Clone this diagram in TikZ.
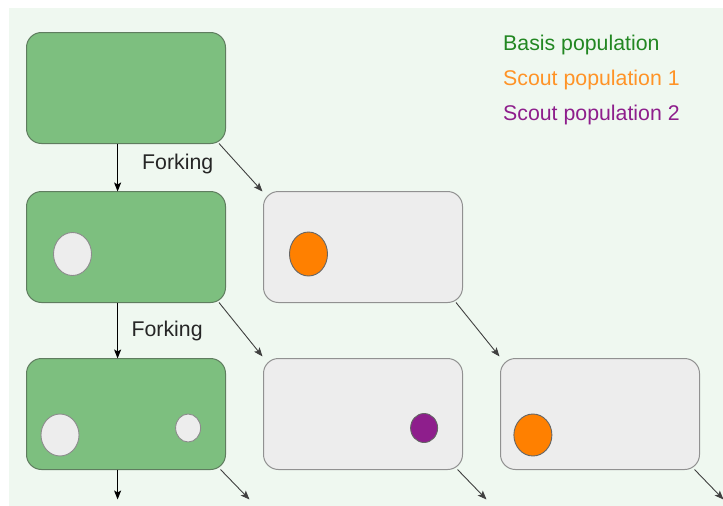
\documentclass[tikz,border=0pt]{standalone}
\usepackage{fontspec}
\setmainfont{Liberation Sans}
\usepackage{xcolor}
\usepackage{tikz}
\usetikzlibrary{shapes.geometric, arrows.meta, positioning}
\definecolor{paper}{RGB}{239, 248, 240}
\definecolor{basisfill}{RGB}{125, 191, 127}
\definecolor{basisedge}{RGB}{95, 125, 95}
\definecolor{scoutfill}{RGB}{237, 237, 237}
\definecolor{scoutedge}{RGB}{145, 145, 145}
\definecolor{basisgreen}{RGB}{34, 135, 34}
\definecolor{scoutorange}{RGB}{255, 128, 0}
\definecolor{scoutpurple}{RGB}{142, 30, 140}

\begin{document}
\begin{tikzpicture}[
        x=1pt, y=-1pt,
        pop/.style={rectangle, rounded corners=15pt, minimum width=199pt, minimum height=111pt, line width=1pt, inner sep=0pt, outer sep=0pt},
        basis/.style={pop, draw=basisedge, fill=basisfill},
        scout/.style={pop, draw=scoutedge, fill=scoutfill},
        member/.style={ellipse, draw=black!45, line width=0.9pt, inner sep=0pt, fill=scoutfill},
        tip/.style={-{Stealth[length=9pt, width=7pt, inset=2pt]}},
        down/.style={tip, line width=1.2pt, black},
        fork/.style={tip, line width=0.9pt, black!75},
        note/.style={font=\fontsize{21.3}{25}\selectfont, anchor=base west, inner sep=0pt, text=black!85},
        legend/.style={note, anchor=base west},
        node distance=38pt
    ]
        % Canvas
        \useasboundingbox (0,0) rectangle (723,506);
        \fill [paper] (9,8) rectangle (723,506);

        % Populations
        \node (g1) [basis] at (126,88) {};
        \node (g2) [basis, below=48pt of g1] {};
        \node (s1) [scout, right=of g2] {};
        \node (g3) [basis, below=56pt of g2] {};
        \node (s2) [scout, right=of g3] {};
        \node (s3) [scout, right=of s2] {};

        % Members
        \node (g2a) [member, minimum width=38pt, minimum height=43pt] at ([shift={(46,7)}]g2.west) {};
        \node (s1a) [member, fill=scoutorange, draw=black!60, minimum width=38pt, minimum height=44pt] at ([shift={(45,7)}]s1.west) {};
        \node (g3a) [member, minimum width=38pt, minimum height=42pt] at ([shift={(33.5,21)}]g3.west) {};
        \node (g3b) [member, minimum width=25pt, minimum height=28pt] at ([shift={(161.6,14)}]g3.west) {};
        \node (s2a) [member, fill=scoutpurple, draw=black!60, minimum width=27pt, minimum height=29pt] at ([shift={(160.6,14)}]s2.west) {};
        \node (s3a) [member, fill=scoutorange, draw=black!60, minimum width=38pt, minimum height=42pt] at ([shift={(32.4,21)}]s3.west) {};

        % Arrows
        \draw [down] ([xshift=-8.4pt]g1.south) -- ([xshift=-8.4pt]g2.north);
        \draw [down] ([xshift=-8.4pt]g2.south) -- ([xshift=-8.4pt]g3.north);
        \draw [fork] ([xshift=-6.5pt]g1.south east) -- ([xshift=-1pt]s1.north west);
        \draw [fork] ([xshift=-6.5pt]g2.south east) -- ([shift={(-1,-2)}]s2.north west);
        \draw [fork] ([xshift=-6.5pt]s1.south east) -- ([shift={(-1,-2)}]s3.north west);

        % Outgoing
        \coordinate (g3next) at ([shift={(-8.4,30)}]g3.south);
        \coordinate (g3fork) at ([shift={(24,30)}]g3.south east);
        \coordinate (s2fork) at ([shift={(24,30)}]s2.south east);
        \coordinate (s3fork) at ([shift={(24,30)}]s3.south east);
        \draw [down] ([xshift=-8.4pt]g3.south) -- (g3next);
        \draw [fork] ([xshift=-5pt]g3.south east) -- (g3fork);
        \draw [fork] ([xshift=-5pt]s2.south east) -- (s2fork);
        \draw [fork] ([xshift=-5pt]s3.south east) -- (s3fork);

        % Labels
        \node (fork1) [note] at ([shift={(16,26)}]g1.south) {Forking};
        \node (fork2) [note] at ([shift={(5.4,34)}]g2.south) {Forking};

        % Legend
        \node (basis) [legend, text=basisgreen] at (503,50) {Basis population};
        \node (scouta) [legend, text=scoutorange!85!white] at ([shift={(0,35)}]basis.base west) {Scout population 1};
        \node (scoutb) [legend, text=scoutpurple] at ([shift={(0,35)}]scouta.base west) {Scout population 2};

    \end{tikzpicture}
\end{document}
